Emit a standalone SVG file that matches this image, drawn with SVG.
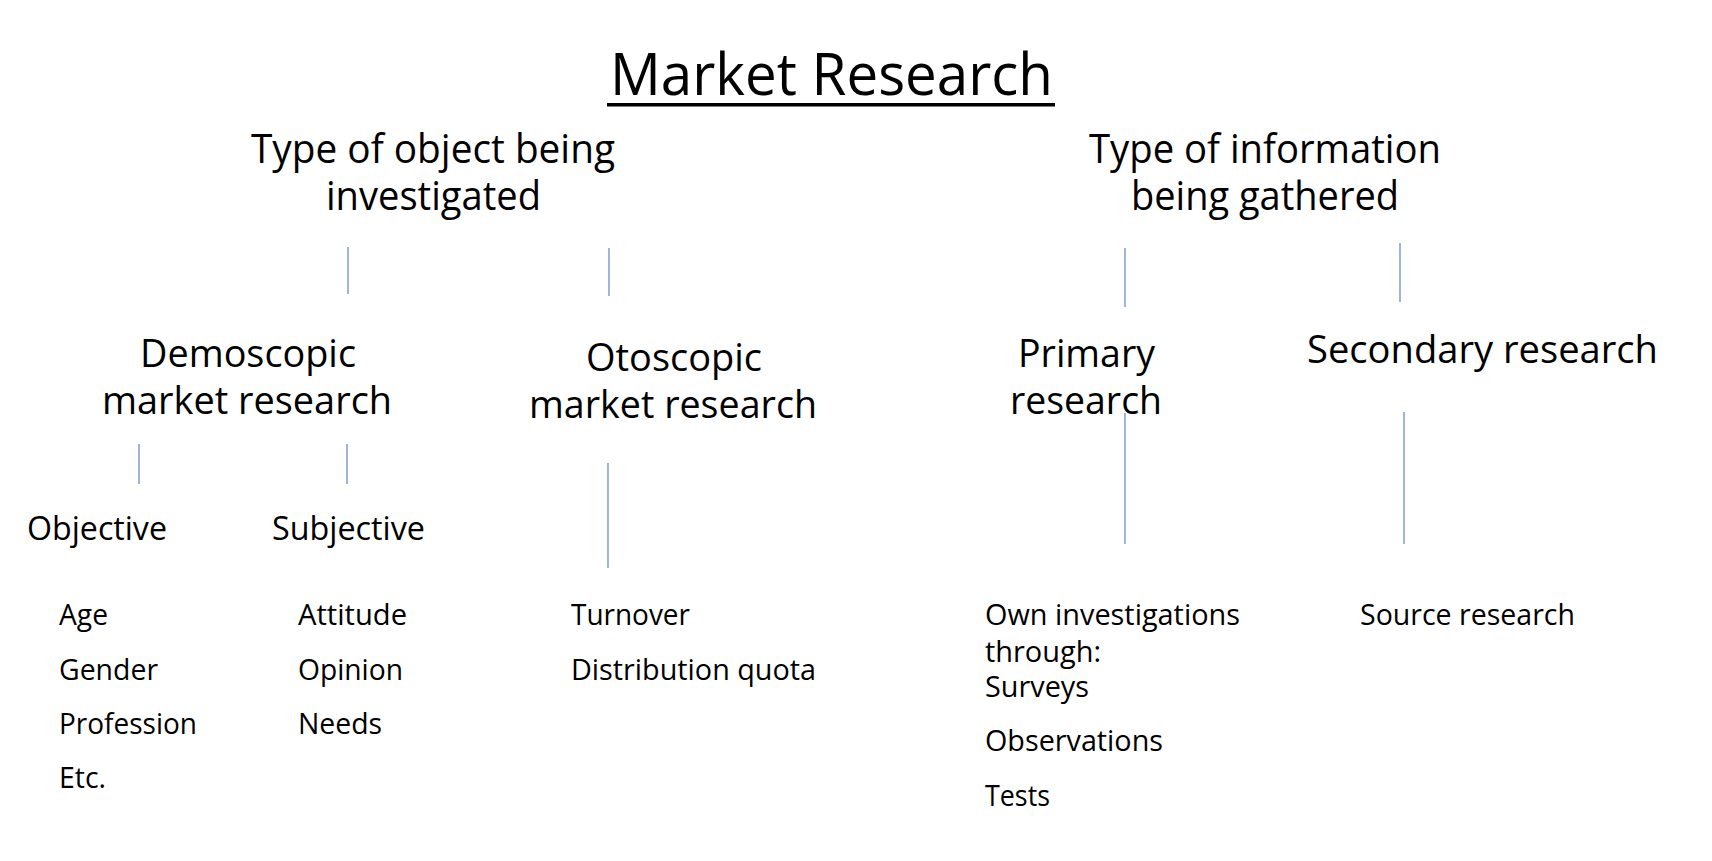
<svg xmlns="http://www.w3.org/2000/svg" width="1712" height="861" viewBox="0 0 1712 861">
<style>
text{font-family:"Open Sans","Noto Sans","Liberation Sans",sans-serif;fill:#000;}
.title{font-size:57.6px;}
.hd{font-size:39.5px;}
.nd{font-size:39px;}
.sub{font-size:32.4px;}
.li{font-size:28.8px;}
.conn line{stroke:#5b86c0;stroke-width:1.2;}
</style>
<rect x="0" y="0" width="1712" height="861" fill="#ffffff"/>

<g id="title">
<text class="title" x="610" y="95" textLength="443" lengthAdjust="spacingAndGlyphs">Market Research</text>
<rect x="607" y="103" width="448" height="3.5" fill="#000"/>
</g>

<g id="type-object">
<text class="hd" x="251" y="163" textLength="364" lengthAdjust="spacingAndGlyphs">Type of object being</text>
<text class="hd" x="326" y="210" textLength="215" lengthAdjust="spacingAndGlyphs">investigated</text>
</g>

<g id="type-information">
<text class="hd" x="1089" y="163" textLength="352" lengthAdjust="spacingAndGlyphs">Type of information</text>
<text class="hd" x="1131" y="210" textLength="268" lengthAdjust="spacingAndGlyphs">being gathered</text>
</g>

<g id="demoscopic">
<text class="nd" x="140" y="367" textLength="216" lengthAdjust="spacingAndGlyphs">Demoscopic</text>
<text class="nd" x="102" y="414" textLength="290" lengthAdjust="spacingAndGlyphs">market research</text>
</g>

<g id="otoscopic">
<text class="nd" x="586" y="371" textLength="176" lengthAdjust="spacingAndGlyphs">Otoscopic</text>
<text class="nd" x="529" y="418" textLength="288" lengthAdjust="spacingAndGlyphs">market research</text>
</g>

<g id="primary">
<text class="nd" x="1018" y="367" textLength="137" lengthAdjust="spacingAndGlyphs">Primary</text>
<text class="nd" x="1010" y="414" textLength="152" lengthAdjust="spacingAndGlyphs">research</text>
</g>

<g id="secondary">
<text class="nd" x="1307" y="363" textLength="351" lengthAdjust="spacingAndGlyphs">Secondary research</text>
</g>

<g id="objective">
<text class="sub" x="27" y="540" textLength="140" lengthAdjust="spacingAndGlyphs">Objective</text>
</g>

<g id="subjective">
<text class="sub" x="272" y="540" textLength="153" lengthAdjust="spacingAndGlyphs">Subjective</text>
</g>

<g id="objective-list">
<text class="li" x="59" y="625" textLength="49" lengthAdjust="spacingAndGlyphs">Age</text>
<text class="li" x="59" y="680" textLength="99" lengthAdjust="spacingAndGlyphs">Gender</text>
<text class="li" x="59" y="734" textLength="138" lengthAdjust="spacingAndGlyphs">Profession</text>
<text class="li" x="59" y="788" textLength="47" lengthAdjust="spacingAndGlyphs">Etc.</text>
</g>

<g id="subjective-list">
<text class="li" x="298" y="625" textLength="109" lengthAdjust="spacingAndGlyphs">Attitude</text>
<text class="li" x="298" y="680" textLength="105" lengthAdjust="spacingAndGlyphs">Opinion</text>
<text class="li" x="298" y="734" textLength="84" lengthAdjust="spacingAndGlyphs">Needs</text>
</g>

<g id="otoscopic-list">
<text class="li" x="571" y="625" textLength="119" lengthAdjust="spacingAndGlyphs">Turnover</text>
<text class="li" x="571" y="680" textLength="245" lengthAdjust="spacingAndGlyphs">Distribution quota</text>
</g>

<g id="primary-list">
<text class="li" x="985" y="625" textLength="255" lengthAdjust="spacingAndGlyphs">Own investigations</text>
<text class="li" x="985" y="662" textLength="116" lengthAdjust="spacingAndGlyphs">through:</text>
<text class="li" x="985" y="697" textLength="104" lengthAdjust="spacingAndGlyphs">Surveys</text>
<text class="li" x="985" y="751" textLength="178" lengthAdjust="spacingAndGlyphs">Observations</text>
<text class="li" x="985" y="806" textLength="65" lengthAdjust="spacingAndGlyphs">Tests</text>
</g>

<g id="secondary-list">
<text class="li" x="1360" y="625" textLength="215" lengthAdjust="spacingAndGlyphs">Source research</text>
</g>

<g id="connectors" class="conn">
<line x1="348" y1="247" x2="348" y2="294"/>
<line x1="609" y1="248" x2="609" y2="296"/>
<line x1="1125" y1="248" x2="1125" y2="307"/>
<line x1="1400" y1="243" x2="1400" y2="302"/>
<line x1="139" y1="444" x2="139" y2="484"/>
<line x1="347" y1="444" x2="347" y2="484"/>
<line x1="608" y1="463" x2="608" y2="568"/>
<line x1="1125" y1="413" x2="1125" y2="544"/>
<line x1="1404" y1="412" x2="1404" y2="544"/>
</g>
</svg>
